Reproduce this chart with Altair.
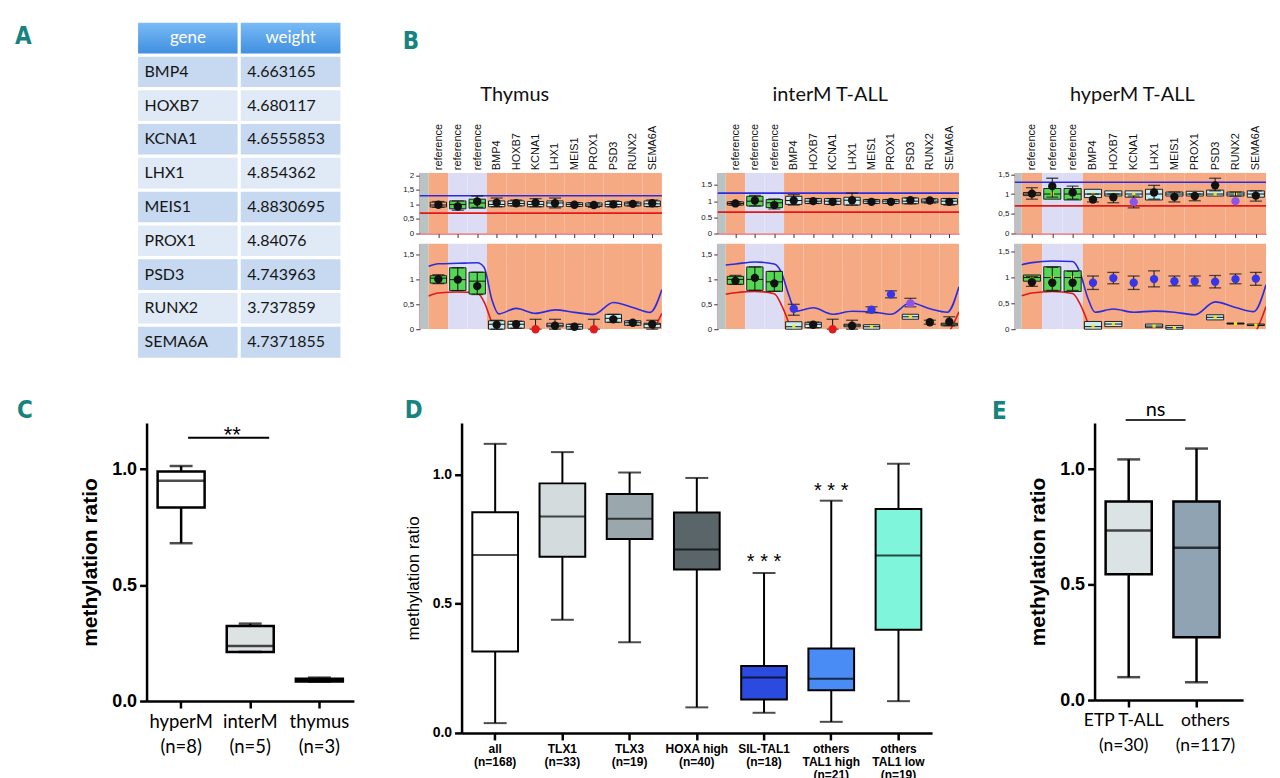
import altair as alt
import pandas as pd

# ------------------------------------------------------------------ data
TABLE_HEAD = ["gene", "weight"]
GENES = ["BMP4", "HOXB7", "KCNA1", "LHX1", "MEIS1", "PROX1", "PSD3", "RUNX2", "SEMA6A"]
WEIGHTS = ["4.663165", "4.680117", "4.6555853", "4.854362", "4.8830695",
           "4.84076", "4.743963", "3.737859", "4.7371855"]

B_LABELS = ["reference", "reference", "reference"] + GENES
B_ZONES = ["orange", "lavender", "lavender"] + ["orange"] * 9
TOP_KINDS = ["n", "g", "g"] + ["c"] * 9
BOT_KINDS = ["g", "g", "g"] + ["c"] * 9

# (box low, box high, median, error low, error high, point, point colour)
THY_TOP = [
    (0.91, 1.08, 0.98, 0.90, 1.10, 0.99, "k"),
    (0.85, 1.12, 1.00, 0.80, 1.12, 0.93, "k"),
    (0.87, 1.18, 1.05, 0.90, 1.29, 1.10, "k"),
    (0.92, 1.12, 1.00, 0.92, 1.22, 1.06, "k"),
    (0.95, 1.12, 1.03, 0.95, 1.15, 1.04, "k"),
    (0.92, 1.10, 1.00, 0.92, 1.20, 1.06, "k"),
    (0.92, 1.12, 1.05, 0.88, 1.22, 1.04, "k"),
    (0.93, 1.06, 1.00, 0.93, 1.06, 0.99, "k"),
    (0.93, 1.05, 0.98, 0.90, 1.05, 0.98, "k"),
    (0.92, 1.10, 1.00, 0.92, 1.12, 1.00, "k"),
    (0.95, 1.08, 1.02, 0.95, 1.08, 1.02, "k"),
    (0.93, 1.12, 1.02, 0.92, 1.15, 1.04, "k"),
]
THY_BOT = [
    (0.93, 1.08, 1.03, 0.92, 1.10, 1.01, "k"),
    (0.78, 1.24, 1.00, 0.78, 1.24, 1.00, "k"),
    (0.71, 1.15, 0.97, 0.70, 1.15, 0.87, "k"),
    (0.00, 0.17, 0.10, 0.00, 0.18, 0.09, "k"),
    (0.02, 0.16, 0.10, 0.02, 0.16, 0.10, "k"),
    (None, None, None, 0.00, 0.20, 0.00, "r"),
    (0.05, 0.12, 0.08, 0.00, 0.20, 0.07, "k"),
    (0.00, 0.10, 0.05, 0.00, 0.10, 0.05, "k"),
    (None, None, None, 0.00, 0.20, 0.00, "r"),
    (0.14, 0.30, 0.22, 0.14, 0.30, 0.20, "k"),
    (0.08, 0.17, 0.13, 0.08, 0.17, 0.13, "k"),
    (0.03, 0.12, 0.10, 0.00, 0.18, 0.10, "k"),
]
INT_TOP = [
    (0.88, 0.98, 0.93, 0.88, 0.98, 0.93, "k"),
    (0.85, 1.15, 1.00, 0.85, 1.18, 1.02, "k"),
    (0.80, 1.05, 0.95, 0.76, 1.07, 0.88, "k"),
    (0.90, 1.15, 1.02, 0.88, 1.20, 1.02, "k"),
    (0.93, 1.08, 1.00, 0.93, 1.08, 1.00, "k"),
    (0.90, 1.08, 1.00, 0.90, 1.08, 0.98, "k"),
    (0.88, 1.12, 1.03, 0.88, 1.25, 1.03, "k"),
    (0.93, 1.05, 1.00, 0.93, 1.05, 0.98, "k"),
    (0.93, 1.05, 1.00, 0.93, 1.05, 0.98, "k"),
    (0.92, 1.10, 1.00, 0.92, 1.10, 1.03, "k"),
    (0.95, 1.07, 1.00, 0.95, 1.07, 1.02, "k"),
    (0.90, 1.08, 1.00, 0.88, 1.08, 0.98, "k"),
]
INT_BOT = [
    (0.90, 1.06, 1.00, 0.90, 1.08, 0.97, "k"),
    (0.78, 1.25, 1.00, 0.78, 1.25, 1.03, "k"),
    (0.76, 1.16, 0.95, 0.76, 1.16, 0.92, "k"),
    (0.00, 0.15, 0.05, 0.28, 0.50, 0.41, "b"),
    (0.03, 0.14, 0.10, 0.03, 0.14, 0.09, "k"),
    (None, None, None, 0.00, 0.20, 0.00, "r"),
    (0.05, 0.10, 0.08, 0.00, 0.18, 0.07, "k"),
    (0.00, 0.09, 0.05, 0.33, 0.45, 0.39, "b"),
    (None, None, None, 0.63, 0.77, 0.70, "b"),
    (0.20, 0.30, 0.25, 0.45, 0.62, 0.52, "p"),
    (None, None, None, 0.10, 0.18, 0.14, "k"),
    (0.07, 0.12, 0.10, 0.07, 0.25, 0.15, "k"),
]
HYP_TOP = [
    (0.96, 1.04, 1.00, 0.87, 1.16, 1.01, "k"),
    (0.87, 1.14, 1.00, 0.92, 1.40, 1.20, "k"),
    (0.85, 1.14, 1.00, 0.87, 1.20, 1.04, "k"),
    (0.91, 1.12, 1.00, 0.80, 1.00, 0.86, "k"),
    (0.95, 1.08, 1.00, 0.78, 1.00, 0.92, "k"),
    (0.92, 1.08, 1.00, 0.65, 0.95, 0.80, "p"),
    (0.85, 1.12, 1.00, 0.87, 1.22, 1.04, "k"),
    (0.95, 1.05, 1.00, 0.80, 1.05, 0.93, "k"),
    (0.95, 1.07, 1.00, 0.83, 1.00, 0.95, "k"),
    (0.95, 1.10, 1.00, 1.08, 1.40, 1.22, "k"),
    (0.95, 1.05, 1.00, 0.95, 1.05, 0.82, "p"),
    (0.92, 1.08, 1.00, 0.82, 1.08, 0.96, "k"),
]
HYP_BOT = [
    (0.93, 1.05, 1.00, 0.83, 1.02, 0.91, "k"),
    (0.74, 1.21, 1.00, 0.75, 1.20, 0.90, "k"),
    (0.73, 1.13, 1.00, 0.75, 1.12, 0.90, "k"),
    (0.00, 0.15, 0.05, 0.77, 1.03, 0.90, "b"),
    (0.05, 0.15, 0.10, 0.88, 1.10, 0.99, "b"),
    (None, None, None, 0.77, 1.03, 0.90, "b"),
    (0.03, 0.10, 0.06, 0.82, 1.13, 0.97, "b"),
    (0.00, 0.07, 0.03, 0.84, 1.03, 0.93, "b"),
    (None, None, None, 0.84, 1.03, 0.93, "b"),
    (0.18, 0.28, 0.23, 0.80, 1.04, 0.92, "b"),
    (0.10, 0.12, 0.11, 0.88, 1.07, 0.97, "b"),
    (0.07, 0.10, 0.08, 0.85, 1.10, 0.98, "b"),
]
# horizontal limits in the upper plots (blue, red)
THY_LIMITS = [1.30, 0.70]
INT_LIMITS = [1.25, 0.66]
HYP_LIMITS = [1.30, 0.70]
# smooth limit curves in the lower plots, read at these column positions
CURVE_X = [-0.5, 0, 1, 2, 2.35, 2.75, 3.1, 4, 5, 6, 7, 8, 9, 10, 10.9, 11.5]
THY_BLUE = [1.27, 1.32, 1.33, 1.34, 1.25, 0.60, 0.31, 0.42, 0.32, 0.39, 0.34, 0.30, 0.54, 0.44, 0.34, 0.80]
THY_RED = [0.67, 0.73, 0.75, 0.73, 0.55, 0.12, -0.30, -0.30, -0.30, -0.30, -0.30, -0.30, -0.30, -0.30, -0.10, 0.32]
INT_BLUE = [1.29, 1.31, 1.35, 1.31, 1.15, 0.68, 0.36, 0.43, 0.30, 0.36, 0.35, 0.30, 0.53, 0.41, 0.34, 0.85]
INT_RED = [0.70, 0.73, 0.76, 0.71, 0.50, 0.12, -0.30, -0.30, -0.30, -0.30, -0.30, -0.30, -0.30, -0.30, -0.10, 0.35]
HYP_BLUE = [1.25, 1.29, 1.32, 1.31, 1.11, 0.60, 0.33, 0.39, 0.33, 0.35, 0.33, 0.28, 0.53, 0.42, 0.34, 0.86]
HYP_RED = [0.65, 0.70, 0.73, 0.69, 0.50, 0.12, -0.30, -0.30, -0.30, -0.30, -0.30, -0.30, -0.30, -0.30, -0.10, 0.44]

# panel C
C_CATS = ["hyperM|(n=8)", "interM|(n=5)", "thymus|(n=3)"]
C_MIN = [0.681, 0.212, 0.084]
C_Q1 = [0.835, 0.212, 0.084]
C_MED = [0.951, 0.238, 0.090]
C_Q3 = [0.990, 0.324, 0.096]
C_MAX = [1.014, 0.334, 0.101]
C_SIG = ("hyperM|(n=8)", "interM|(n=5)", 1.136, "**")

# panel D
D_CATS = ["all|(n=168)", "TLX1|(n=33)", "TLX3|(n=19)", "HOXA high|(n=40)",
          "SIL-TAL1|(n=18)", "others|TAL1 high|(n=21)", "others|TAL1 low|(n=19)"]
D_MIN = [0.038, 0.438, 0.351, 0.099, 0.078, 0.043, 0.123]
D_Q1 = [0.315, 0.682, 0.751, 0.633, 0.129, 0.165, 0.399]
D_MED = [0.689, 0.838, 0.829, 0.710, 0.215, 0.210, 0.687]
D_Q3 = [0.854, 0.966, 0.925, 0.853, 0.259, 0.327, 0.867]
D_MAX = [1.119, 1.087, 1.008, 0.987, 0.619, 0.899, 1.042]
D_STAR_CATS = ["SIL-TAL1|(n=18)", "others|TAL1 high|(n=21)"]
D_STAR_Y = [0.680, 0.956]
D_STAR_TEXT = ["* * *", "* * *"]

# panel E
E_CATS = ["ETP T-ALL|(n=30)", "others|(n=117)"]
E_MIN = [0.099, 0.077]
E_Q1 = [0.545, 0.272]
E_MED = [0.734, 0.659]
E_Q3 = [0.860, 0.860]
E_MAX = [1.042, 1.089]
E_SIG = ("ETP T-ALL|(n=30)", "others|(n=117)", 1.213, "ns")

# ------------------------------------------------------------------ style
TEAL = "#17837f"
LETTER_FONT = "Liberation Sans Narrow, DejaVu Sans Condensed, Liberation Sans, sans-serif"
ARIAL = "Liberation Sans, Arial, sans-serif"
SOFT = "Lato, Open Sans, sans-serif"
C_FILLS = ["#ffffff", "#dde3e3", "#111111"]
D_FILLS = ["#ffffff", "#d3dbdc", "#9aa8ad", "#5a6569", "#2b4be0", "#4a8cf6", "#7ff6dc"]
E_FILLS = ["#dce3e4", "#8fa3b3"]
PAL = alt.Scale(
    domain=["grey", "orange", "lavender", "n", "g", "c", "k", "b", "r", "p", "blue", "red"],
    range=["#b8c3c3", "#f6aa84", "#dcdcf4", "transparent", "#55d655", "#c6edf3",
           "#111111", "#3636e8", "#e21b1b", "#8d55e6", "#2b2be0", "#e01818"],
)


def letter(t, dx, dy=0):
    return alt.TitleParams(t, anchor="start", frame="group", dx=dx, dy=dy, offset=0,
                           fontSize=24, font=LETTER_FONT, fontWeight="bold", color=TEAL)


def indep(ch):
    return ch.resolve_scale(color="independent", fill="independent")


# ------------------------------------------------------------------ A: table
# The grid layout lines the table's origin up with the upper plots of B, so the
# table is drawn upward from that origin through its scale ranges.
rows = [dict(r=0, c=h, t=h, k="head") for h in TABLE_HEAD]
for j, (g, w) in enumerate(zip(GENES, WEIGHTS), start=1):
    k = "odd" if j % 2 else "even"
    rows.append(dict(r=j, c="gene", t=g, k=k))
    rows.append(dict(r=j, c="weight", t=w, k=k))
tdf = pd.DataFrame(rows)
xsA = alt.Scale(domain=TABLE_HEAD, paddingInner=0, paddingOuter=0, range=[-10, 196])
ysA = alt.Scale(paddingInner=0, paddingOuter=0, range=[-152, 187])
xA = alt.X("c:N", scale=xsA, axis=None)
yA = alt.Y("r:O", scale=ysA, axis=None)
cells = alt.Chart(tdf).transform_filter("datum.k != 'head'").mark_rect(
    stroke="white", strokeWidth=3).encode(
    x=xA, y=yA,
    color=alt.Color("k:N", scale=alt.Scale(domain=["odd", "even"], range=["#c6d9f0", "#dfeaf6"]),
                    legend=None))
head = alt.Chart(tdf).transform_filter("datum.k == 'head'").mark_rect(
    stroke="white", strokeWidth=3,
    color=alt.Gradient(gradient="linear",
                       stops=[alt.GradientStop(color="#7dbdf6", offset=0),
                              alt.GradientStop(color="#3d8de0", offset=1)],
                       x1=0, x2=0, y1=0, y2=1)).encode(x=xA, y=yA)
head_txt = alt.Chart(tdf).transform_filter("datum.k == 'head'").mark_text(
    color="white", fontSize=17, font=SOFT).encode(x=xA, y=yA, text="t:N")
body_txt = alt.Chart(tdf).transform_filter("datum.k != 'head'").mark_text(
    align="left", dx=8, fontSize=16, font=SOFT, color="#151515").encode(
    x=alt.X("c:N", scale=xsA, axis=None, bandPosition=0), y=yA, text="t:N")
panelA = alt.layer(cells, head, head_txt, body_txt).properties(
    width=186, height=187, title=letter("A", -132, 29))


# ------------------------------------------------------------------ B
LABEL_EXPR = "[" + ",".join("'%s'" % s for s in B_LABELS) + "][datum.value]"


def y_label_expr(dec):
    if dec == ",":
        return "replace(toString(datum.value), '.', ',')"
    return "toString(datum.value)"


def b_plot(rows, kinds, xmin, width, height, ymax, ticks, dec, is_top, limits=None,
           blue=None, red=None, yellow=False):
    xs = alt.Scale(domain=[xmin, 11.5], nice=False, zero=False)
    ys = alt.Scale(domain=[0, ymax], nice=False, zero=False)
    yax = alt.Axis(values=ticks, labelExpr=y_label_expr(dec), labelFontSize=8, labelFont=ARIAL,
                   labelColor="#222", tickSize=4, tickColor="#333", domainColor="#c8406c",
                   domainWidth=1.5, grid=False, title=None, labelPadding=2)
    bottom_ax = alt.Axis(orient="bottom", values=list(range(12)), labels=False, ticks=True,
                         tickSize=4, tickColor="#333", domainColor="#d02028" if is_top else "#333",
                         domainWidth=1.2, grid=False, title=None)
    if is_top:
        first_ax = alt.Axis(orient="top", values=list(range(12)), labelExpr=LABEL_EXPR,
                            labelAngle=-90, ticks=False, domain=False, grid=False, title=None,
                            labelFontSize=11, labelFont=ARIAL, labelPadding=3, labelColor="#111")
    else:
        first_ax = bottom_ax

    bg_df = pd.DataFrame(dict(i=list(range(-1, 12)), zone=["grey"] + B_ZONES))
    df = pd.DataFrame([dict(i=i, lo=r[0], hi=r[1], med=r[2], elo=r[3], ehi=r[4], pt=r[5],
                            pc=r[6], kind=kinds[i]) for i, r in enumerate(rows)])

    bg = alt.Chart(bg_df).transform_calculate(
        x0="datum.i - 0.5", x1="datum.i + 0.5").mark_rect(clip=True).encode(
        x=alt.X("x0:Q", scale=xs, axis=first_ax), x2="x1:Q",
        color=alt.Color("zone:N", scale=PAL, legend=None))
    layers = [bg]
    if is_top:
        ldf = pd.DataFrame(dict(kind=["blue", "red"], v=limits))
        layers.append(alt.Chart(ldf).mark_rule(strokeWidth=1.6).encode(
            y=alt.Y("v:Q", scale=ys, axis=yax),
            color=alt.Color("kind:N", scale=PAL, legend=None)))
    else:
        cdf = pd.DataFrame(dict(cx=CURVE_X * 2, cy=list(blue) + list(red),
                                kind=["blue"] * len(CURVE_X) + ["red"] * len(CURVE_X)))
        layers.append(alt.Chart(cdf).mark_line(interpolate="monotone", clip=True,
                                               strokeWidth=1.6).encode(
            x=alt.X("cx:Q", scale=xs, axis=None),
            y=alt.Y("cy:Q", scale=ys, axis=yax),
            color=alt.Color("kind:N", scale=PAL, legend=None)))
    base = alt.Chart(df)
    boxes = base.transform_filter("isValid(datum.lo)").transform_calculate(
        bx0="datum.i - 0.42", bx1="datum.i + 0.42")
    layers.append(boxes.mark_rect(stroke="#111", strokeWidth=0.9).encode(
        x=alt.X("bx0:Q", scale=xs, axis=None), x2="bx1:Q",
        y=alt.Y("lo:Q", scale=ys, axis=yax), y2="hi:Q",
        fill=alt.Fill("kind:N", scale=PAL, legend=None)))
    layers.append(boxes.mark_rule(color="#111", strokeWidth=1).encode(
        x=alt.X("bx0:Q", scale=xs, axis=None), x2="bx1:Q",
        y=alt.Y("med:Q", scale=ys, axis=yax)))
    if yellow:
        layers.append(boxes.mark_square(size=10, color="#f2e41c", opacity=1).encode(
            x=alt.X("i:Q", scale=xs, axis=None),
            y=alt.Y("med:Q", scale=ys, axis=yax)))
    layers.append(base.mark_rule(color="#111", strokeWidth=1).encode(
        x=alt.X("i:Q", scale=xs, axis=bottom_ax if is_top else None),
        y=alt.Y("elo:Q", scale=ys, axis=yax), y2="ehi:Q"))
    for f in ("elo", "ehi"):
        layers.append(base.mark_tick(orient="horizontal", size=12, thickness=1.3,
                                     color="#111").encode(
            x=alt.X("i:Q", scale=xs, axis=None),
            y=alt.Y(f + ":Q", scale=ys, axis=yax)))
    layers.append(base.mark_circle(size=70, opacity=1).encode(
        x=alt.X("i:Q", scale=xs, axis=None),
        y=alt.Y("pt:Q", scale=ys, axis=yax),
        color=alt.Color("pc:N", scale=PAL, legend=None)))
    ch = alt.layer(*layers).properties(width=width, height=height)
    if is_top:
        ch = ch.resolve_axis(x="independent")
    return ch


def b_panel(name, top_rows, bot_rows, limits, blue, red, xmin, width, top_max, top_ticks,
            top_dec, bot_max, bot_dec, title_dx, yellow_top, yellow_bot):
    top = b_plot(top_rows, TOP_KINDS, xmin, width, 61, top_max, top_ticks, top_dec, True,
                 limits=limits, yellow=yellow_top)
    bot = b_plot(bot_rows, BOT_KINDS, xmin, width, 86, bot_max, [0, 0.5, 1, 1.5], bot_dec,
                 False, blue=blue, red=red, yellow=yellow_bot)
    return alt.vconcat(top, bot, spacing=5).properties(
        title=alt.TitleParams(name, fontSize=20, font=SOFT, fontWeight="normal",
                              anchor="middle", offset=18, dx=title_dx, color="#111"))


thy = b_panel("Thymus", THY_TOP, THY_BOT, THY_LIMITS, THY_BLUE, THY_RED, -0.96, 243, 2.09,
              [0, 0.5, 1, 1.5, 2], ",", 1.73, ",", -18, False, False)
inter = b_panel("interM T-ALL", INT_TOP, INT_BOT, INT_LIMITS, INT_BLUE, INT_RED, -0.91, 242,
                1.88, [0, 0.5, 1, 1.5], ".", 1.72, ",", 0, False, True)
hyper = b_panel("hyperM T-ALL", HYP_TOP, HYP_BOT, HYP_LIMITS, HYP_BLUE, HYP_RED, -0.84, 252,
                1.54, [0, 0.5, 1, 1.5], ",", 1.66, ",", 0, True, True)
panelB = alt.hconcat(thy, inter, hyper, spacing=37).properties(
    title=alt.TitleParams("B", anchor="start", fontSize=24, font=LETTER_FONT,
                          fontWeight="bold", color=TEAL, offset=32))


# ------------------------------------------------------------------ C, D, E
def box_chart(cats, lo, q1, med, q3, hi, fills, yaxis, xaxis, sw, box_w, cap_w,
              pad_outer=0.16, align=0.5):
    df = pd.DataFrame(dict(cat=cats, lo=lo, q1=q1, med=med, q3=q3, hi=hi))
    xs = alt.Scale(domain=cats, paddingInner=0.32, paddingOuter=pad_outer, align=align)
    ys = alt.Scale(domain=[0, 1.2], nice=False)
    X = alt.X("cat:N", scale=xs, axis=xaxis, sort=cats)
    base = alt.Chart(df)
    layers = [
        base.mark_rule(color="black", strokeWidth=sw).encode(
            x=X, y=alt.Y("lo:Q", scale=ys, axis=yaxis), y2="hi:Q"),
        base.mark_bar(stroke="black", strokeWidth=sw).encode(
            x=X, y=alt.Y("q1:Q", scale=ys, axis=yaxis), y2="q3:Q",
            fill=alt.Fill("cat:N", scale=alt.Scale(domain=cats, range=fills), legend=None)),
        base.mark_tick(orient="horizontal", size=box_w, thickness=sw, color="black").encode(
            x=X, y=alt.Y("med:Q", scale=ys, axis=yaxis)),
        base.mark_tick(orient="horizontal", size=cap_w, thickness=sw, color="black").encode(
            x=X, y=alt.Y("lo:Q", scale=ys, axis=yaxis)),
        base.mark_tick(orient="horizontal", size=cap_w, thickness=sw, color="black").encode(
            x=X, y=alt.Y("hi:Q", scale=ys, axis=yaxis)),
    ]
    return layers, xs, ys


def y_axis(label_size, label_weight, title_size, title_weight, title_pad):
    return alt.Axis(values=[0, 0.5, 1], format=".1f", labelFont=ARIAL, labelFontSize=label_size,
                    labelFontWeight=label_weight, labelColor="black", title="methylation ratio",
                    titleFont=ARIAL, titleFontSize=title_size, titleFontWeight=title_weight,
                    titleColor="black", titlePadding=title_pad, domainWidth=2.5, domainColor="black",
                    tickWidth=2.5, tickColor="black", tickSize=7, grid=False, labelPadding=3)


def x_axis(font, size, weight, line_h, pad, label_offset=0):
    return alt.Axis(labelExpr="split(datum.value, '|')", labelAngle=0, labelFont=font,
                    labelFontSize=size, labelFontWeight=weight, labelColor="black",
                    labelLineHeight=line_h, labelPadding=pad, title=None, domainWidth=2.5,
                    domainColor="black", tickWidth=2.5, tickColor="black", tickSize=7, grid=False,
                    labelOffset=label_offset)


# C
yC = y_axis(18, "bold", 21, "bold", 11)
xC = x_axis(SOFT, 18.5, "normal", 25, 5)
layC, xsC, ysC = box_chart(C_CATS, C_MIN, C_Q1, C_MED, C_Q3, C_MAX, C_FILLS, yC, xC, 2.5, 47, 23)
sigC = alt.Chart(pd.DataFrame(dict(a=[C_SIG[0]], b=[C_SIG[1]], y=[C_SIG[2]], t=[C_SIG[3]])))
layC.append(sigC.mark_rule(color="black", strokeWidth=2, xOffset=7, x2Offset=19).encode(
    x=alt.X("a:N", scale=xsC, axis=xC), x2="b:N", y=alt.Y("y:Q", scale=ysC, axis=yC)))
layC.append(sigC.mark_text(fontSize=22, font=ARIAL, dx=-18, dy=4, baseline="alphabetic").encode(
    x=alt.X("b:N", scale=xsC, axis=xC), y=alt.Y("y:Q", scale=ysC, axis=yC), text="t:N"))
panelC = alt.layer(*layC).properties(width=208, height=279, title=letter("C", -130))

# D
yD = y_axis(14, "bold", 17, "normal", 10)
xD = x_axis(ARIAL, 12, "bold", 13, 4)
layD, xsD, ysD = box_chart(D_CATS, D_MIN, D_Q1, D_MED, D_Q3, D_MAX, D_FILLS, yD, xD, 2, 45, 23)
starD = alt.Chart(pd.DataFrame(dict(c=D_STAR_CATS, y=D_STAR_Y, t=D_STAR_TEXT)))
layD.append(starD.mark_text(fontSize=20, font=ARIAL, dy=11, baseline="alphabetic").encode(
    x=alt.X("c:N", scale=xsD, axis=xD), y=alt.Y("y:Q", scale=ysD, axis=yD), text="t:N"))
panelD = alt.layer(*layD).properties(width=472, height=311, title=letter("D", -57))

# E
yE = y_axis(18, "bold", 21, "bold", 11)
xE = x_axis(SOFT, 17.5, "normal", 25, 5,
            label_offset={"condition": {"test": "datum.value == '%s'" % E_CATS[1], "value": 9},
                          "value": -5})
layE, xsE, ysE = box_chart(E_CATS, E_MIN, E_Q1, E_MED, E_Q3, E_MAX, E_FILLS, yE, xE, 2.5, 46, 23,
                           pad_outer=0.255, align=0.32)
sigE = alt.Chart(pd.DataFrame(dict(a=[E_SIG[0]], b=[E_SIG[1]], y=[E_SIG[2]], t=[E_SIG[3]])))
layE.append(sigE.mark_rule(color="#333", strokeWidth=2, xOffset=-3, x2Offset=-11).encode(
    x=alt.X("a:N", scale=xsE, axis=xE), x2="b:N", y=alt.Y("y:Q", scale=ysE, axis=yE)))
layE.append(sigE.mark_text(fontSize=20, font=SOFT, dx=27, dy=-4, baseline="alphabetic").encode(
    x=alt.X("a:N", scale=xsE, axis=xE), y=alt.Y("y:Q", scale=ysE, axis=yE), text="t:N"))
panelE = alt.layer(*layE).properties(width=149, height=278, title=letter("E", -103, 24))

# ------------------------------------------------------------------ layout
row1 = indep(alt.concat(panelA, panelB, columns=2, spacing=58))
rowDE = indep(alt.concat(panelD, panelE, columns=2, spacing=60))
row2 = indep(alt.concat(panelC, rowDE, columns=2, spacing=50))
chart = indep(alt.concat(row1, row2, columns=1, spacing=38)).properties(
    padding={"left": 7, "top": 10, "right": 5, "bottom": 5}
).configure_view(stroke=None)

chart.save("out.html", embed_options={"renderer": "svg", "actions": False})
